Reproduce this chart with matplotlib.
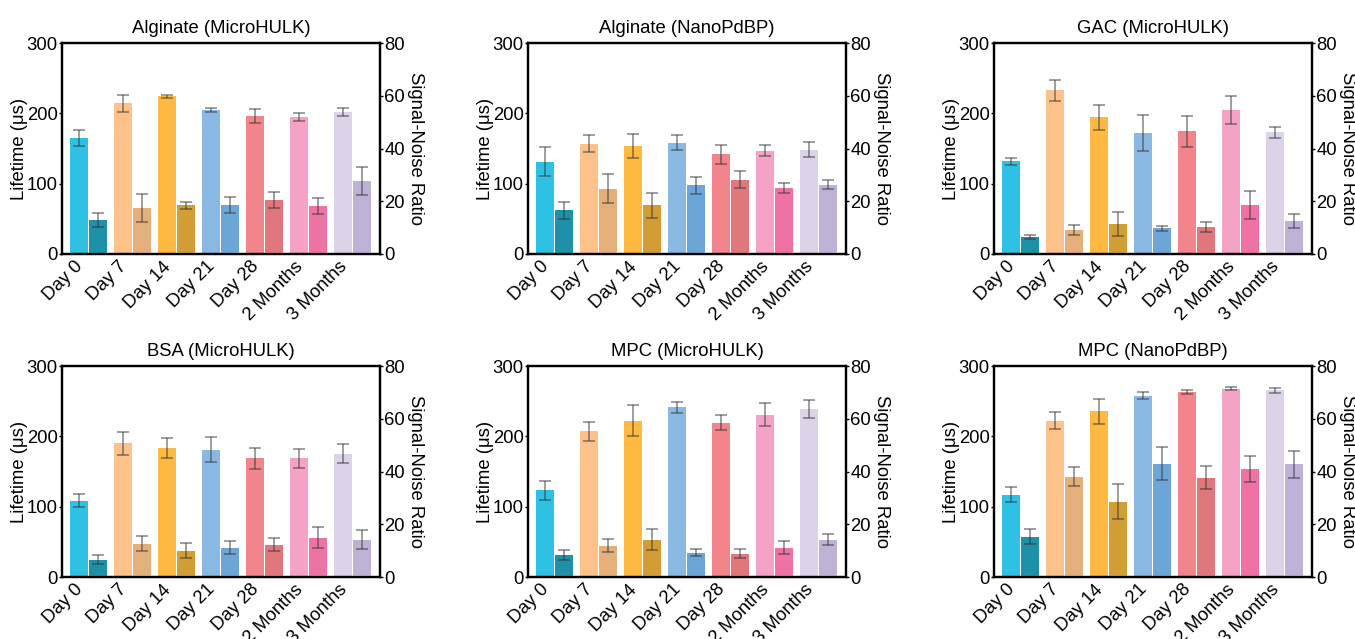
import numpy as np
import matplotlib.pyplot as plt

plt.rcParams['font.family'] = ['Liberation Sans', 'DejaVu Sans']

labels = ['Day 0', 'Day 7', 'Day 14', 'Day 21', 'Day 28', '2 Months', '3 Months']
titles = ['Alginate (MicroHULK)', 'Alginate (NanoPdBP)', 'GAC (MicroHULK)',
          'BSA (MicroHULK)', 'MPC (MicroHULK)', 'MPC (NanoPdBP)']

# lifetime (us) and its error, per panel
life = [
    [165, 214, 224, 205, 196, 194.5, 201.5],
    [131.5, 157, 154, 158.5, 141.5, 147, 148.5],
    [132, 233, 194.5, 172, 174.5, 204.5, 173],
    [108.5, 190, 183, 181, 168.5, 168.5, 175.5],
    [123, 207, 222.5, 241, 219.5, 231, 238.5],
    [117, 222.5, 235.5, 258, 262.5, 268, 265.5],
]
life_err = [
    [12, 12, 2, 2.5, 10, 6, 6],
    [21, 12.5, 17, 11, 13.5, 8, 11],
    [5, 15, 18, 25.5, 22, 19.5, 8],
    [9.5, 16.5, 14, 17.5, 15.5, 14, 13.5],
    [14, 14, 21.5, 8, 10.5, 16.5, 12.5],
    [11, 12.5, 17.5, 5, 3, 2.5, 3.5],
]
# signal-noise ratio and its error, per panel
snr = [
    [12.9, 17.4, 18.5, 18.5, 20.4, 18.2, 27.6],
    [16.5, 24.8, 18.4, 26, 28.2, 25, 26.3],
    [6.4, 9.1, 11.4, 9.8, 10.2, 18.5, 12.5],
    [6.6, 12.7, 10, 11.1, 12.3, 14.9, 14.2],
    [8.5, 11.9, 14.2, 9.2, 8.9, 11.1, 14.2],
    [15.3, 38.1, 28.6, 43, 37.7, 40.8, 42.7],
]
snr_err = [
    [2.6, 5.3, 1.4, 3, 3, 3, 5.2],
    [3.3, 5.6, 4.8, 3.3, 3.3, 1.9, 1.8],
    [0.7, 1.8, 4.4, 1, 1.8, 5.3, 2.5],
    [1.8, 2.7, 2.9, 2.5, 2.3, 4, 3.5],
    [1.9, 2.5, 4, 1.4, 1.8, 2.5, 2.1],
    [2.9, 3.7, 6.7, 6.1, 4.4, 4.9, 5.2],
]

life_colors = ['#2EC1E3', '#FCC28A', '#FDB942', '#89B9E2', '#F2848B', '#F4A3C6', '#DCD3E8']
snr_colors = ['#1E91A9', '#E4AF7A', '#D39D35', '#6BA6D7', '#E0777C', '#EF72A5', '#BEB1D6']

W, H = 1355, 639
fig = plt.figure(figsize=(W / 100, H / 100), dpi=100)

lefts = [62, 528, 994]
bottoms = [254, 577]
x = np.arange(len(labels))
bw = 0.4
fs = 13.3
err_kw = dict(ecolor=(0.2, 0.2, 0.2, 0.6), elinewidth=1.1, capsize=4, capthick=1.1)

for k in range(6):
    r, c = divmod(k, 3)
    ax = fig.add_axes([lefts[c] / W, 1 - bottoms[r] / H, 318 / W, 211 / H])
    ax2 = ax.twinx()

    ax.bar(x - 0.215, life[k], bw, yerr=life_err[k], color=life_colors, error_kw=err_kw)
    ax2.bar(x + 0.215, snr[k], bw, yerr=snr_err[k], color=snr_colors, error_kw=err_kw)

    ax.set_xlim(-0.6, 6.62)
    ax.set_ylim(0, 300)
    ax2.set_ylim(0, 80)
    ax.set_yticks([0, 100, 200, 300])
    ax2.set_yticks([0, 20, 40, 60, 80])
    ax.set_xticks(x - 0.05)
    ax.set_xticklabels(labels, rotation=45, ha='right', fontsize=fs)
    ax.tick_params(axis='x', length=0, pad=3)
    ax.tick_params(axis='y', length=2, width=1, pad=1, labelsize=fs)
    ax2.tick_params(axis='y', length=2, width=1, pad=1, labelsize=fs)

    for a in (ax, ax2):
        for s in a.spines.values():
            s.set_linewidth(1.6)

    ax.set_ylabel('Lifetime (μs)', fontsize=fs, labelpad=-1)
    ax2.set_ylabel('Signal-Noise Ratio', fontsize=fs, rotation=270, labelpad=14)
    ax.set_title(titles[k], fontsize=fs, pad=7)

fig.savefig('out.png', dpi=100)
